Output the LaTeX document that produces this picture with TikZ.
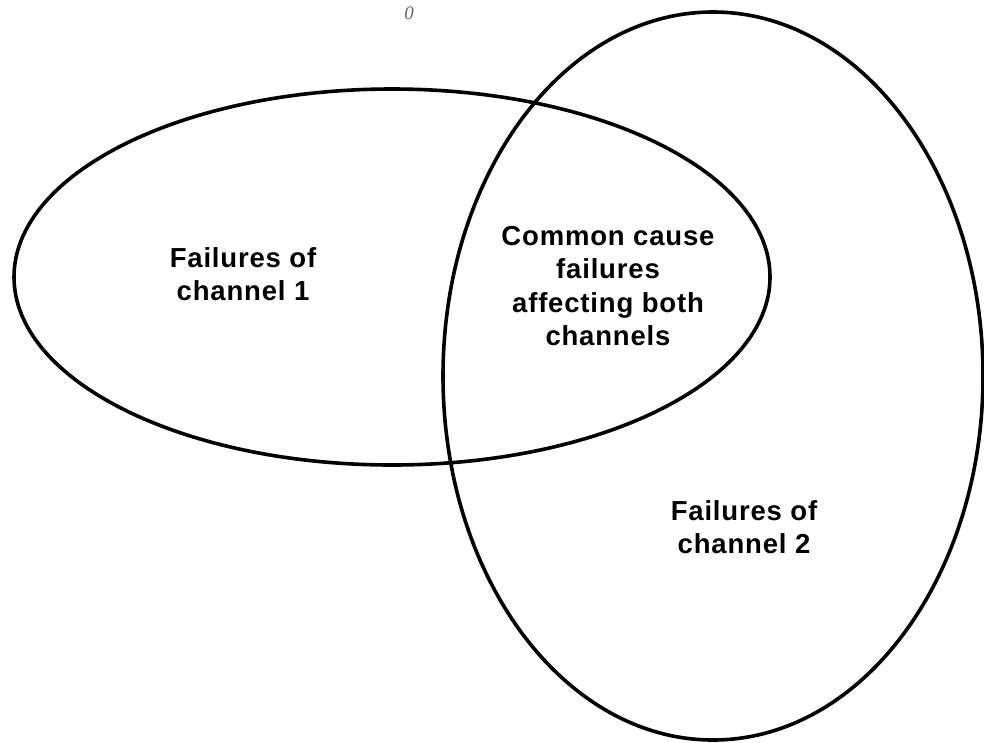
\documentclass[tikz,border=0pt]{standalone}
\usepackage{fontspec}
\setmainfont{Liberation Sans}
\newfontfamily\labelfont{Liberation Sans}[BoldFont={* Bold},LetterSpace=3]
\newfontfamily\indexfont{Liberation Serif}
\usetikzlibrary{shapes.geometric}
\begin{document}
\begin{tikzpicture}[x=1pt,y=-1pt,
  setring/.style={draw=black,line width=3.6pt,ellipse,inner sep=0pt,fill=none},
  setlabel/.style={align=center,inner sep=0pt,font=\labelfont\bfseries\fontsize{27.5}{33.5}\selectfont}]
  \useasboundingbox (0,0) rectangle (984,742);
  % the two channel failure sets
  \node[setring,minimum width=756pt,minimum height=376pt] (ch1) at (392,277) {};
  \node[setring,minimum width=540pt,minimum height=728pt] (ch2) at (713,376) {};
  % region labels
  \node[setlabel] (l1) at (243,274) {Failures of\\channel 1};
  \node[setlabel] (lc) at (608,286) {Common cause\\failures\\affecting both\\channels};
  \node[setlabel] (l2) at (744,527) {Failures of\\channel 2};
  % stray index digit at the top edge
  \node[text=black!60,font=\indexfont\itshape\fontsize{19}{19}\selectfont,inner sep=0pt] (idx) at (409,13) {0};
\end{tikzpicture}
\end{document}
